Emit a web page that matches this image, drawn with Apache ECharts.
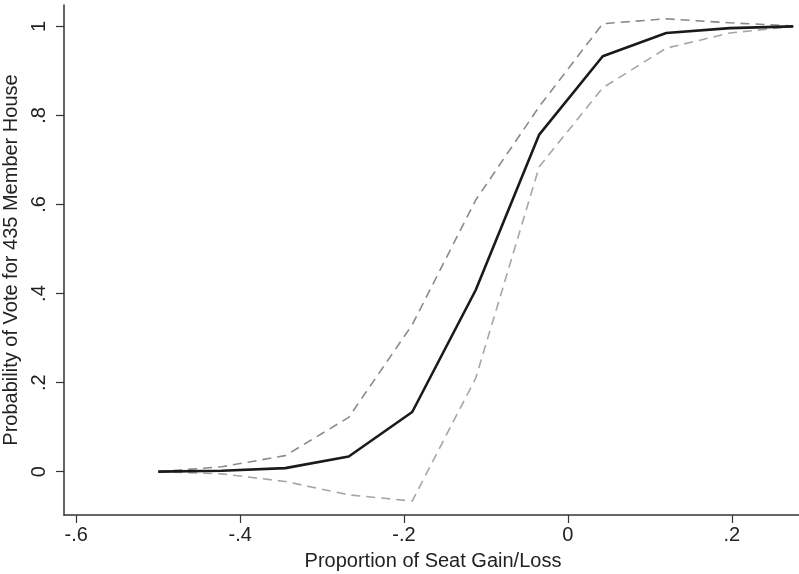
<!DOCTYPE html>
<html>
<head>
    <meta charset="UTF-8">
    <title>Probability of Vote for 435 Member House</title>
    <script src="https://cdn.jsdelivr.net/npm/echarts@6.0.0/dist/echarts.min.js"></script>
    <style>
        html, body { margin: 0; padding: 0; background: #fff; }
        #chart { width: 799px; height: 574px; }
    </style>
</head>
<body>
    <div id="chart"></div>
    <script>
        // seat gain/loss values on the x axis
        const seatChange = [-0.5, -0.4225, -0.345, -0.2675, -0.19, -0.1125, -0.035, 0.0425, 0.12, 0.1975, 0.275];
        // predicted probability and the two bounds
        const probability = [0, 0.002, 0.008, 0.034, 0.134, 0.408, 0.757, 0.933, 0.985, 0.996, 1.0];
        const upperBound = [0, 0.011, 0.036, 0.122, 0.33, 0.61, 0.82, 1.006, 1.017, 1.008, 1.001];
        const lowerBound = [0, -0.005, -0.022, -0.052, -0.066, 0.21, 0.685, 0.862, 0.951, 0.985, 1.0];
        const xTicks = [-0.6, -0.4, -0.2, 0, 0.2];
        const yTicks = [0, 0.2, 0.4, 0.6, 0.8, 1];

        // the plot runs past the right edge of the picture, as in the original
        const xMin = -0.615, xMax = 0.2857;
        const yMin = -0.0973, yMax = 1.048;

        const font = 'Liberation Sans, Arial, Helvetica, sans-serif';

        // Stata style labels: ".2", "-.4"
        function stataLabel(v) {
            if (Math.abs(v) < 1e-9) return '0';
            if (Math.abs(v - 1) < 1e-9) return '1';
            return (+v.toFixed(1)).toString().replace('0.', '.');
        }

        function pairs(ys) {
            return seatChange.map((x, i) => [x, ys[i]]);
        }

        const chart = echarts.init(document.getElementById('chart'));

        chart.setOption({
            animation: false,
            grid: { left: 64, right: -3, top: 5, bottom: 59, containLabel: false, outerBoundsMode: 'none' },
            xAxis: {
                type: 'value',
                min: xMin,
                max: xMax,
                name: 'Proportion of Seat Gain/Loss',
                nameLocation: 'middle',
                nameGap: 36,
                nameTextStyle: { fontFamily: font, fontSize: 20, color: '#222' },
                splitLine: { show: false },
                axisLine: { onZero: false, lineStyle: { color: '#333', width: 1.5 } },
                axisTick: { length: 8, customValues: xTicks, lineStyle: { color: '#333', width: 1.2 } },
                axisLabel: {
                    customValues: xTicks,
                    formatter: stataLabel,
                    margin: 10,
                    fontFamily: font, fontSize: 20, color: '#222'
                }
            },
            yAxis: {
                type: 'value',
                min: yMin,
                max: yMax,
                name: 'Probability of Vote for 435 Member House',
                nameLocation: 'middle',
                nameGap: 37,
                nameTextStyle: { fontFamily: font, fontSize: 20, color: '#222' },
                splitLine: { show: false },
                axisLine: { show: true, onZero: false, lineStyle: { color: '#333', width: 1.5 } },
                axisTick: { show: true, length: 8, customValues: yTicks, lineStyle: { color: '#333', width: 1.2 } },
                axisLabel: {
                    customValues: yTicks,
                    formatter: stataLabel,
                    rotate: 90,
                    margin: 15,
                    fontFamily: font, fontSize: 20, color: '#222'
                }
            },
            series: [{
                name: 'upper',
                type: 'line',
                data: pairs(upperBound),
                symbol: 'none',
                lineStyle: { color: '#8a8a8a', width: 1.6, type: [9, 6] }
            }, {
                name: 'lower',
                type: 'line',
                data: pairs(lowerBound),
                symbol: 'none',
                lineStyle: { color: '#a6a6a6', width: 1.6, type: [9, 6] }
            }, {
                name: 'probability',
                type: 'line',
                data: pairs(probability),
                symbol: 'none',
                clip: false,
                lineStyle: { color: '#1a1a1a', width: 2.6 },
                // top border of the plot region
                markLine: {
                    silent: true,
                    symbol: 'none',
                    label: { show: false },
                    lineStyle: { color: '#333', width: 1.5, type: 'solid' },
                    data: [{ yAxis: yMax }]
                }
            }]
        });

        window.addEventListener('resize', function () {
            chart.resize();
        });
    </script>
</body>
</html>
